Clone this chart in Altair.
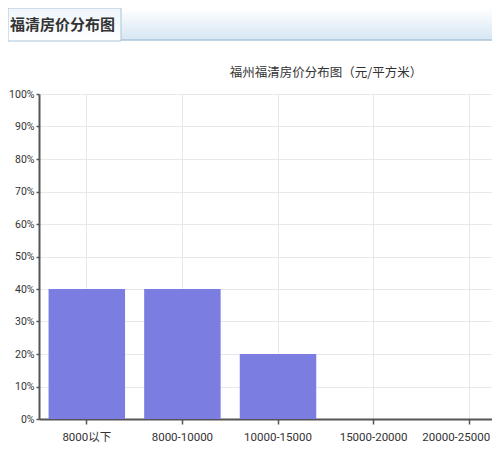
import altair as alt
import pandas as pd

categories = ["8000以下", "8000-10000", "10000-15000", "15000-20000", "20000-25000"]
shares = [0.4, 0.4, 0.2, 0.0, 0.0]
y_ticks = [0, 0.1, 0.2, 0.3, 0.4, 0.5, 0.6, 0.7, 0.8, 0.9, 1.0]
chart_title = "福州福清房价分布图（元/平方米）"
tab_title = "福清房价分布图"

df = pd.DataFrame({"cat": categories, "val": shares})
one = alt.Data(values=[{}])
FONT = "Noto Sans CJK SC"
LABEL_FONT = "Roboto, Noto Sans CJK SC"

bars = alt.Chart(df).mark_bar(color="#7b7ee0").encode(
    x=alt.X("cat:N", sort=categories, title=None,
            scale=alt.Scale(range=[0, 478], paddingInner=0.2, paddingOuter=0.1),
            axis=alt.Axis(labelAngle=0, tickSize=5, labelPadding=7, labelFontSize=11.5,
                          labelColor="#333", domainColor="#555", domainWidth=2,
                          tickColor="#555", tickWidth=1.5, grid=True, bandPosition=0.5,
                          gridColor="#e8e8e8", labelFont=LABEL_FONT,
                          labelOffset={"condition": {"test": "datum.value == '20000-25000'", "value": -13},
                                       "value": 0})),
    y=alt.Y("val:Q", title=None, scale=alt.Scale(domain=[0, 1]),
            axis=alt.Axis(values=y_ticks, format=".0%", labelFontSize=10.5, labelColor="#333",
                          domainColor="#555", domainWidth=2, tickColor="#555", tickSize=3,
                          tickWidth=1.5, gridColor="#e8e8e8", labelPadding=2, labelFont=LABEL_FONT)),
)

right_bar = alt.Chart(one).mark_rect(
    color=alt.LinearGradient(gradient="linear", x1=0, y1=0, x2=0, y2=1,
                             stops=[alt.GradientStop(color="#ffffff", offset=0),
                                    alt.GradientStop(color="#d6e6f3", offset=1)]),
).encode(x=alt.value(82), x2=alt.value(470), y=alt.value(-86), y2=alt.value(-54))

bottom_line = alt.Chart(one).mark_rule(color="#a9c4da", strokeWidth=1.5).encode(
    x=alt.value(82), x2=alt.value(470), y=alt.value(-54))

tab = alt.Chart(one).mark_rect(
    color=alt.LinearGradient(gradient="linear", x1=0, y1=0, x2=0, y2=1,
                             stops=[alt.GradientStop(color="#eef5fb", offset=0),
                                    alt.GradientStop(color="#ffffff", offset=1)]),
    stroke="#a9c4da", strokeWidth=1,
).encode(x=alt.value(-31), x2=alt.value(82), y=alt.value(-86), y2=alt.value(-53))

tab_text = alt.Chart(one).mark_text(
    text=tab_title, font=FONT, fontSize=15, fontWeight="bold", color="#333",
    align="left", baseline="middle",
).encode(x=alt.value(-29), y=alt.value(-69))

title_text = alt.Chart(one).mark_text(
    text=chart_title, font=FONT, fontSize=12.5, color="#333",
    align="center", baseline="middle",
).encode(x=alt.value(287), y=alt.value(-21))

chart = alt.layer(right_bar, bottom_line, tab, tab_text, title_text, bars).properties(
    width=453, height=325,
    padding={"left": 31, "top": 86, "right": 0, "bottom": 43},
    autosize=alt.AutoSizeParams(type="none"),
).configure_view(stroke=None)

chart.save("out.html", embed_options={"renderer": "svg", "actions": False})
